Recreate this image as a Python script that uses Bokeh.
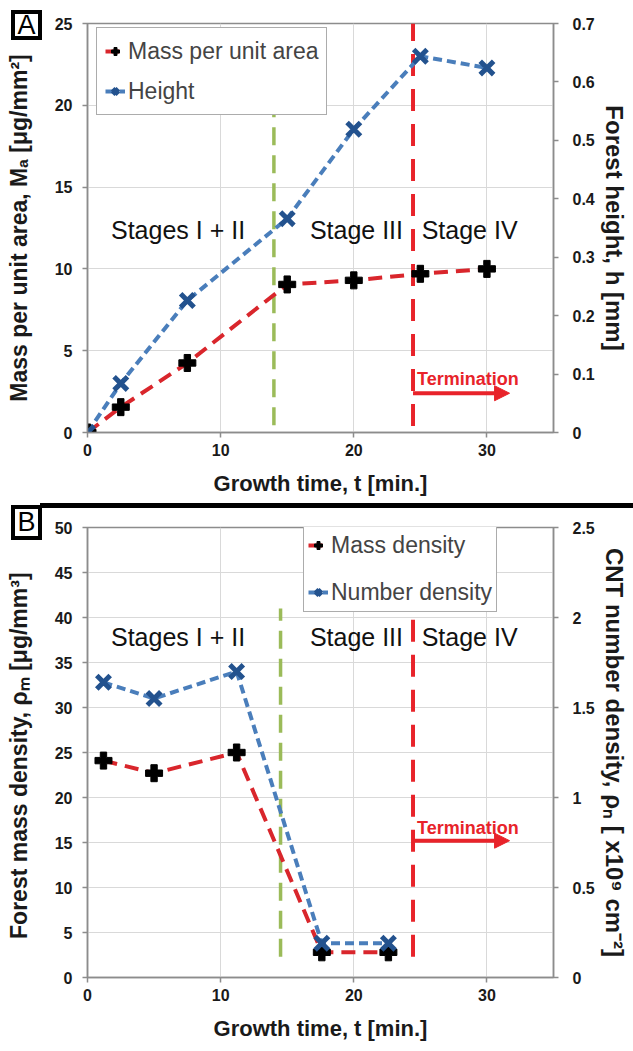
from bokeh.plotting import figure
from bokeh.models import (Range1d, LinearAxis, FixedTicker, CustomJSTickFormatter, Legend,
                          LegendItem, Label, Arrow, NormalHead, Div)
from bokeh.layouts import column
from bokeh.embed import file_html
from bokeh.resources import INLINE
from bokeh.core.properties import value

# ---------------- data ----------------
# Panel A
t_a = [0, 2.5, 7.5, 15, 20, 25, 30]
mass_per_area = [0, 1.55, 4.25, 9.05, 9.3, 9.7, 10.0]          # ug/mm2 (left axis)
height_mm = [0, 0.084, 0.226, 0.366, 0.519, 0.644, 0.624]       # mm (right axis)

# Panel B
t_b = [1.2, 5.0, 11.2, 17.6, 22.6]
mass_density = [24.1, 22.7, 25.0, 2.8, 2.8]                      # ug/mm3 (left axis)
number_density = [1.64, 1.55, 1.70, 0.19, 0.19]                 # x1e9 cm-2 (right axis)

# stage boundaries (t) and their vertical extents (left-axis units)
bound_t_a = [14.0, 24.45]
bound_lo_a = [0.45, 0.4]
bound_hi_a = [19.5, 25.0]
bound_t_b = [14.5, 24.45]
bound_lo_b = [2.3, 2.3]
bound_hi_b = [41.0, 41.0]

stage_labels = ["Stages I + II", "Stage III", "Stage IV"]
x_ticks = [0, 10, 20, 30]
left_ticks_a = [0, 5, 10, 15, 20, 25]
right_ticks_a = [0, 0.1, 0.2, 0.3, 0.4, 0.5, 0.6, 0.7]
left_ticks_b = [0, 5, 10, 15, 20, 25, 30, 35, 40, 45, 50]
right_ticks_b = [0, 0.5, 1, 1.5, 2, 2.5]

RED = "#d9262c"
VRED = "#e8232a"
BLUE = "#4a7ebb"
DBLUE = "#23528e"
GREEN = "#9bbb59"
FONT = "Liberation Sans"
GRID = "#d9d9d9"
AXC = "#8c8c8c"


def make_panel(height, top, bottom, ymax, rmax, lticks, rticks, rfmt, ltitle, rtitle):
    p = figure(width=630, height=height, x_range=Range1d(0, 35), y_range=Range1d(0, ymax),
               output_backend="svg", toolbar_location=None,
               min_border_left=87, min_border_right=73, min_border_top=top,
               min_border_bottom=bottom)
    p.extra_y_ranges = {"r": Range1d(0, rmax)}
    p.outline_line_color = AXC
    p.outline_line_width = 1.5
    p.background_fill_color = "white"
    p.border_fill_color = "white"

    p.xaxis.ticker = FixedTicker(ticks=x_ticks)
    p.yaxis.ticker = FixedTicker(ticks=lticks)
    p.xgrid.ticker = FixedTicker(ticks=x_ticks)
    p.ygrid.ticker = FixedTicker(ticks=lticks)
    p.xgrid.grid_line_color = GRID
    p.ygrid.grid_line_color = GRID

    ra = LinearAxis(y_range_name="r", ticker=FixedTicker(ticks=rticks),
                    formatter=CustomJSTickFormatter(code=rfmt))
    p.add_layout(ra, "right")

    for ax in [p.xaxis[0], p.yaxis[0], ra]:
        ax.axis_line_color = AXC
        ax.axis_line_width = 1.5
        ax.major_tick_line_color = AXC
        ax.major_tick_line_width = 1.5
        ax.major_tick_in = 0
        ax.major_tick_out = 5
        ax.minor_tick_line_color = None
        ax.major_label_text_font = FONT
        ax.major_label_text_font_style = "bold"
        ax.major_label_text_font_size = "16px"
        ax.major_label_text_color = "#1a1a1a"
        ax.axis_label_text_font = FONT
        ax.axis_label_text_font_style = "bold"
        ax.axis_label_text_color = "#1a1a1a"

    p.xaxis.axis_label = "Growth time, t [min.]"
    p.xaxis.axis_label_text_font_size = "22px"
    p.xaxis.major_label_standoff = 6
    p.xaxis.axis_label_standoff = 12
    p.yaxis.axis_label = ltitle
    p.yaxis.axis_label_text_font_size = "23px"
    p.yaxis.major_label_standoff = 10
    p.yaxis.axis_label_standoff = 20
    ra.axis_label = rtitle
    ra.axis_label_text_font_size = "24px"
    ra.major_label_standoff = 14
    ra.axis_label_standoff = 3
    return p


def decorate(p, t, yl, yr, bt, blo, bhi, stage_x, stage_y, term_y, arrow_y,
             lab1, lab2, legend_loc, leg_pad, leg_spacing):
    # stage boundaries
    p.segment(x0=bt[:1], y0=blo[:1], x1=bt[:1], y1=bhi[:1], line_color=GREEN,
              line_width=3.5, line_dash="18 10")
    p.segment(x0=bt[1:], y0=blo[1:], x1=bt[1:], y1=bhi[1:], line_color=VRED,
              line_width=4, line_dash="22 13")
    # series
    l1 = p.line(t, yl, line_color=RED, line_width=4, line_dash="14 8")
    l2 = p.line(t, yr, y_range_name="r", line_color=BLUE, line_width=4, line_dash="9 5")
    m1 = p.scatter(t, yl, marker="plus", size=17, fill_color="black", line_color="black")
    m2 = p.scatter(t, yr, y_range_name="r", marker="x", size=19, line_color=DBLUE,
                   line_width=5)
    # stage labels
    p.text(x=stage_x, y=[stage_y] * 3, text=stage_labels, text_align="center",
           text_baseline="alphabetic", text_font=value(FONT), text_font_size="25px",
           text_color="#111111")
    # termination
    p.add_layout(Label(x=24.75, y=term_y, text="Termination", text_font=FONT,
                       text_font_style="bold", text_font_size="18px", text_color=VRED,
                       text_baseline="alphabetic"))
    p.add_layout(Arrow(x_start=bt[1], y_start=arrow_y, x_end=31.7, y_end=arrow_y,
                       line_color=VRED, line_width=4,
                       end=NormalHead(size=15, fill_color=VRED, line_color=VRED)))
    leg = Legend(items=[LegendItem(label=lab1, renderers=[l1, m1]),
                        LegendItem(label=lab2, renderers=[l2, m2])],
                 location=legend_loc, label_text_font=FONT, label_text_font_size="23px",
                 border_line_color="#595959", border_line_width=1.5, padding=leg_pad,
                 spacing=leg_spacing, glyph_width=20, glyph_height=30, label_height=30,
                 label_standoff=3, margin=0, background_fill_alpha=1)
    p.add_layout(leg)


def letter_box(letter, top, w, h):
    html = ('<div style="position:absolute;box-sizing:border-box;left:11px;top:%dpx;'
            'width:%dpx;height:%dpx;border:4px solid #000;background:#fff;color:#000;'
            'font-family:\'Liberation Sans\',Arial,sans-serif;font-size:27px;'
            'line-height:%dpx;text-align:center;z-index:20;">%s</div>'
            % (top, w, h, h - 8, letter))
    return Div(text=html, width=40, height=0, margin=0,
               styles={"position": "relative", "overflow": "visible", "z-index": "20"})


pa = make_panel(503, 23, 71, 25, 0.7, left_ticks_a, right_ticks_a,
                "return String(Math.round(tick*10)/10)",
                "Mass per unit area, M\u2090 [\u03bcg/mm\u00b2]",
                "Forest height, h [mm]")
decorate(pa, t_a, mass_per_area, height_mm, bound_t_a, bound_lo_a, bound_hi_a,
         [6.8, 20.2, 28.7], 12.4, 3.25, 2.4, "Mass per unit area", "Height",
         (9, 317), 8, 10)

bar = Div(text="", width=593, height=5, margin=(0, 0, 0, 40),
          styles={"background-color": "#000000"})

pb = make_panel(535, 19, 62, 50, 2.5, left_ticks_b, right_ticks_b,
                "return String(tick)",
                "Forest mass density, \u03c1\u2098  [\u03bcg/mm\u00b3]",
                "CNT number density, \u03c1\u2099 [ x10\u2079 cm\u207b\u00b2]")
decorate(pb, t_b, mass_density, number_density, bound_t_b, bound_lo_b, bound_hi_b,
         [6.8, 20.2, 28.7], 37.8, 16.6, 15.2, "Mass density", "Number density",
         (216, 365), 4, 17)

layout = column(letter_box("A", 10, 31, 30), pa, bar, letter_box("B", -3, 31, 35), pb,
                spacing=0)
open("out.html", "w").write(file_html(layout, INLINE))
